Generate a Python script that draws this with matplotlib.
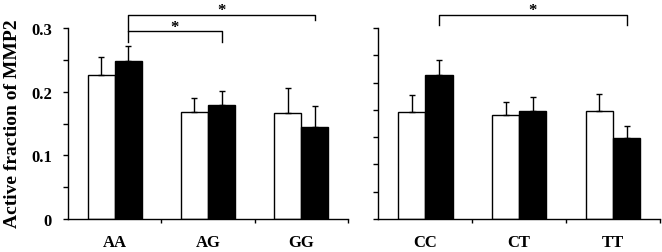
import matplotlib.pyplot as plt
import numpy as np

plt.rcParams['font.family'] = ['Liberation Serif', 'DejaVu Serif']

left_groups = ["AA", "AG", "GG"]
left_white = [0.226, 0.1675, 0.1665]
left_white_err = [0.028, 0.023, 0.040]
left_black = [0.248, 0.179, 0.145]
left_black_err = [0.024, 0.022, 0.033]

right_groups = ["CC", "CT", "TT"]
right_white = [0.1675, 0.163, 0.169]
right_white_err = [0.028, 0.021, 0.028]
right_black = [0.2255, 0.170, 0.128]
right_black_err = [0.024, 0.022, 0.018]

bar_w = 0.29

fig = plt.figure(figsize=(6.62, 2.53), dpi=100)
ax1 = fig.add_axes([0.1027, 0.1304, 0.423, 0.755])
ax2 = fig.add_axes([0.5715, 0.1304, 0.4255, 0.755])


def draw_panel(ax, groups, white, white_err, black, black_err, yticks, labels):
    x = np.arange(len(groups))
    err_kw = dict(ecolor="black", elinewidth=1, capsize=2.2, capthick=1)
    ax.bar(x - bar_w / 2, white, bar_w, color="white", edgecolor="black",
           linewidth=1, yerr=[np.zeros(len(x)), white_err], error_kw=err_kw, zorder=2)
    ax.bar(x + bar_w / 2, black, bar_w, color="black", edgecolor="black",
           linewidth=1, yerr=[np.zeros(len(x)), black_err], error_kw=err_kw, zorder=2)
    ax.set_xlim(-0.5, len(groups) - 0.5)
    ax.set_ylim(0, 0.3)
    for s in ["top", "right"]:
        ax.spines[s].set_visible(False)
    for s in ["left", "bottom"]:
        ax.spines[s].set_linewidth(1)
    ax.set_xticks(np.arange(len(groups)) + 0.5)
    ax.set_xticklabels([])
    ax.set_xticks(x, minor=True)
    ax.set_xticklabels(groups, minor=True, fontsize=12, fontweight="bold")
    ax.tick_params(axis="x", which="major", length=3, width=1, direction="out")
    ax.tick_params(axis="x", which="minor", length=0, pad=10.5)
    ax.set_yticks(yticks)
    if labels:
        ax.set_yticklabels(labels, fontsize=12, fontweight="bold")
    else:
        ax.set_yticklabels([])
    ax.tick_params(axis="y", length=3.5, width=1, direction="out", pad=8)
    return x


def bracket(ax, x0, x1, y, y0, y1, star_y):
    ax.plot([x0, x0, x1, x1], [y0, y, y, y1], color="black", lw=1, clip_on=False)
    ax.text((x0 + x1) / 2, star_y, "*", ha="center", va="center",
            fontsize=12, fontweight="bold", clip_on=False)


xl = draw_panel(ax1, left_groups, left_white, left_white_err, left_black, left_black_err,
                [0, 0.05, 0.1, 0.15, 0.2, 0.25, 0.3],
                ["0", "", "0.1", "", "0.2", "", "0.3"])
xr = draw_panel(ax2, right_groups, right_white, right_white_err, right_black, right_black_err,
                np.linspace(0, 0.3, 8), None)

bracket(ax1, xl[0] + bar_w / 2, xl[1] + bar_w / 2, 0.2957, 0.2785, 0.2785, 0.302)
bracket(ax1, xl[0] + bar_w / 2, xl[2] + bar_w / 2, 0.321, 0.2957, 0.313, 0.328)
bracket(ax2, xr[0] + bar_w / 2, xr[2] + bar_w / 2, 0.321, 0.305, 0.305, 0.328)

fig.text(0.019, 0.51, "Active fraction of MMP2", rotation=90, ha="center", va="center",
         fontsize=14, fontweight="bold")

fig.savefig("out.png", dpi=100)
